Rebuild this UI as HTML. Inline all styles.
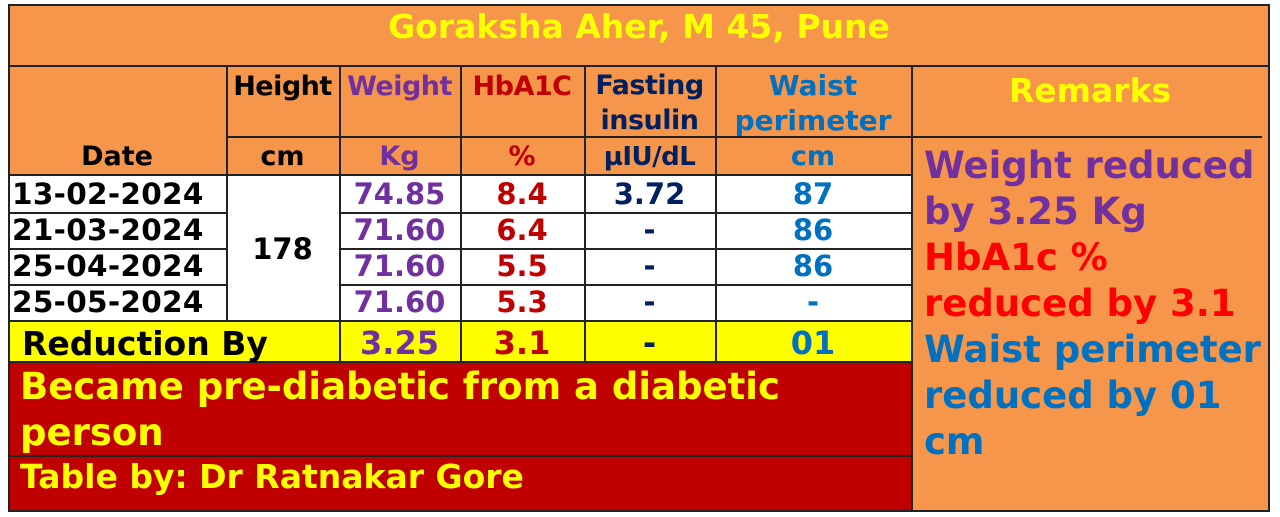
<!DOCTYPE html>
<html><head><meta charset="utf-8"><style>
body{margin:0;width:1280px;height:517px;background:#fff;position:relative;overflow:hidden;font-family:"DejaVu Sans","Liberation Sans",sans-serif;font-weight:bold}
div{position:absolute;box-sizing:border-box}
.c{display:flex;align-items:center;justify-content:center;white-space:nowrap}
.l{background:#222}
.pu{color:#7030A0}.dr{color:#C00000}.nv{color:#002060}.bl{color:#0070C0}.rd{color:#FF0000}.ye{color:#FFFF00}
</style></head><body>
<div style="left:8px;top:4px;width:1262px;height:508px;background:#F5964A"></div>
<div style="left:8px;top:175px;width:904px;height:146px;background:#fff"></div>
<div style="left:8px;top:321px;width:904px;height:41px;background:#FFFF00"></div>
<div style="left:8px;top:362px;width:904px;height:150px;background:#C00000"></div>
<div class="l" style="left:8px;top:4px;width:1262px;height:2px"></div>
<div class="l" style="left:8px;top:510px;width:1262px;height:2px"></div>
<div class="l" style="left:8px;top:4px;width:2px;height:508px"></div>
<div class="l" style="left:1268px;top:4px;width:2px;height:508px"></div>
<div class="l" style="left:8px;top:65px;width:1262px;height:2px"></div>
<div class="l" style="left:226px;top:136px;width:686px;height:2px"></div>
<div class="l" style="left:912px;top:136px;width:350px;height:2px"></div>
<div class="l" style="left:8px;top:174px;width:904px;height:2px"></div>
<div class="l" style="left:8px;top:212px;width:218px;height:2px"></div>
<div class="l" style="left:339px;top:212px;width:573px;height:2px"></div>
<div class="l" style="left:8px;top:248px;width:218px;height:2px"></div>
<div class="l" style="left:339px;top:248px;width:573px;height:2px"></div>
<div class="l" style="left:8px;top:284px;width:218px;height:2px"></div>
<div class="l" style="left:339px;top:284px;width:573px;height:2px"></div>
<div class="l" style="left:8px;top:320px;width:904px;height:2px"></div>
<div class="l" style="left:8px;top:361px;width:904px;height:2px"></div>
<div class="l" style="left:8px;top:455px;width:904px;height:2px"></div>
<div class="l" style="left:226px;top:66px;width:2px;height:255px"></div>
<div class="l" style="left:339px;top:66px;width:2px;height:296px"></div>
<div class="l" style="left:460px;top:66px;width:2px;height:296px"></div>
<div class="l" style="left:584px;top:66px;width:2px;height:296px"></div>
<div class="l" style="left:715px;top:66px;width:2px;height:296px"></div>
<div class="l" style="left:911px;top:66px;width:2px;height:446px"></div>
<div class="c ye" style="left:8px;top:4px;width:1262px;height:44px;font-size:33px">Goraksha Aher, M 45, Pune</div>
<div class="c" style="left:8px;top:138px;width:218px;height:37px;font-size:27px">Date</div>
<div class="c" style="left:226px;top:68px;width:113px;height:36px;font-size:27px;letter-spacing:-0.5px">Height</div>
<div class="c pu" style="left:339px;top:68px;width:121px;height:36px;font-size:27px;letter-spacing:-0.5px">Weight</div>
<div class="c dr" style="left:460px;top:68px;width:124px;height:36px;font-size:27px;letter-spacing:-0.5px">HbA1C</div>
<div class="c nv" style="left:584px;top:68px;width:131px;height:70px;font-size:27px;line-height:35px;text-align:center;letter-spacing:-0.5px">Fasting<br>insulin</div>
<div class="c bl" style="left:715px;top:68px;width:196px;height:70px;font-size:28px;line-height:35px;text-align:center">Waist<br>perimeter</div>
<div class="c ye" style="left:912px;top:68px;width:356px;height:44px;font-size:33px">Remarks</div>
<div class="c" style="left:226px;top:138px;width:113px;height:37px;font-size:27px">cm</div>
<div class="c pu" style="left:339px;top:138px;width:121px;height:37px;font-size:27px">Kg</div>
<div class="c dr" style="left:460px;top:138px;width:124px;height:37px;font-size:27px">%</div>
<div class="c nv" style="left:584px;top:138px;width:131px;height:37px;font-size:26px;letter-spacing:-0.5px">µIU/dL</div>
<div class="c bl" style="left:715px;top:138px;width:196px;height:37px;font-size:27px">cm</div>
<div style="left:12px;top:176px;font-size:29.5px;line-height:36px;letter-spacing:0.3px">13-02-2024<br>21-03-2024<br>25-04-2024<br>25-05-2024</div>
<div class="c" style="left:226px;top:176px;width:113px;height:145px;font-size:29px">178</div>
<div class="pu" style="left:339px;top:176px;width:121px;font-size:29px;line-height:36px;text-align:center">74.85<br>71.60<br>71.60<br>71.60</div>
<div class="dr" style="left:460px;top:176px;width:124px;font-size:29px;line-height:36px;text-align:center">8.4<br>6.4<br>5.5<br>5.3</div>
<div class="nv" style="left:584px;top:176px;width:131px;font-size:29px;line-height:36px;text-align:center">3.72<br>-<br>-<br>-</div>
<div class="bl" style="left:715px;top:176px;width:196px;font-size:29px;line-height:36px;text-align:center">87<br>86<br>86<br>-</div>
<div class="c" style="left:22px;top:323px;height:40px;font-size:33px;justify-content:flex-start">Reduction By</div>
<div class="c pu" style="left:339px;top:323px;width:121px;height:40px;font-size:32px">3.25</div>
<div class="c dr" style="left:460px;top:323px;width:124px;height:40px;font-size:32px">3.1</div>
<div class="c nv" style="left:584px;top:323px;width:131px;height:40px;font-size:32px">-</div>
<div class="c bl" style="left:715px;top:323px;width:196px;height:40px;font-size:32px">01</div>
<div class="ye" style="left:20px;top:364px;font-size:37px;line-height:46px;white-space:nowrap">Became pre-diabetic from a diabetic<br>person</div>
<div class="ye" style="left:20px;top:456px;font-size:33px;line-height:42px;white-space:nowrap">Table by: Dr Ratnakar Gore</div>
<div style="left:924px;top:143px;font-size:37px;line-height:46px;white-space:nowrap"><span class="pu">Weight reduced<br>by 3.25 Kg</span><br><span class="rd">HbA1c %<br>reduced by 3.1</span><br><span class="bl">Waist perimeter<br>reduced by 01<br>cm</span></div>
</body></html>
